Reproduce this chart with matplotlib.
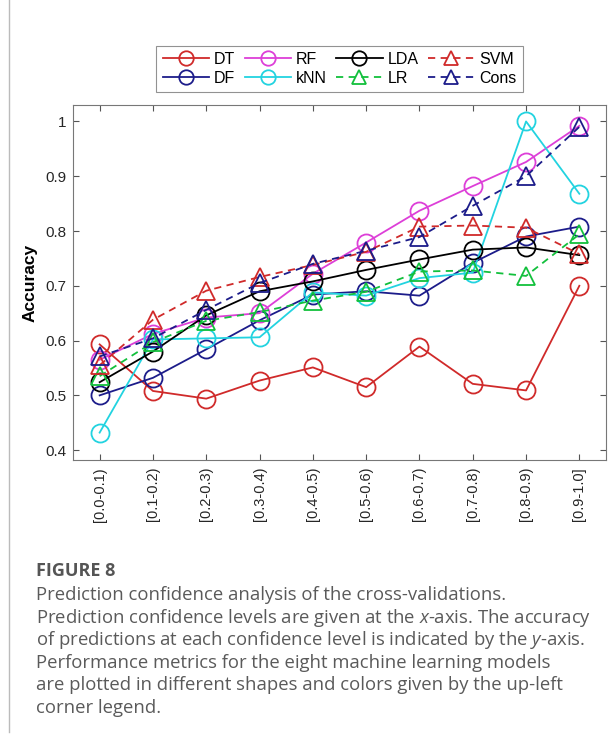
import numpy as np
import matplotlib
matplotlib.use("Agg")
from matplotlib import pyplot as plt
from matplotlib.lines import Line2D

plt.rcParams["font.family"] = ["Liberation Sans", "DejaVu Sans"]
plt.rcParams["mathtext.fontset"] = "custom"
plt.rcParams["mathtext.rm"] = "Open Sans"
plt.rcParams["mathtext.it"] = "Open Sans:italic"

# confidence bins on the x-axis
bins = ["[0.0-0.1)", "[0.1-0.2)", "[0.2-0.3)", "[0.3-0.4)", "[0.4-0.5)",
        "[0.5-0.6)", "[0.6-0.7)", "[0.7-0.8)", "[0.8-0.9)", "[0.9-1.0]"]

# accuracy per model
dt   = [0.593, 0.508, 0.494, 0.527, 0.551, 0.515, 0.589, 0.521, 0.509, 0.700]
df   = [0.500, 0.532, 0.584, 0.637, 0.684, 0.690, 0.682, 0.742, 0.790, 0.808]
rf   = [0.565, 0.612, 0.642, 0.650, 0.722, 0.779, 0.837, 0.882, 0.926, 0.992]
knn  = [0.432, 0.602, 0.604, 0.606, 0.688, 0.682, 0.714, 0.724, 1.000, 0.868]
lda  = [0.524, 0.580, 0.646, 0.690, 0.708, 0.729, 0.748, 0.766, 0.770, 0.756]
lr   = [0.535, 0.597, 0.636, 0.652, 0.673, 0.689, 0.726, 0.728, 0.718, 0.794]
svm  = [0.555, 0.638, 0.691, 0.716, 0.738, 0.762, 0.808, 0.810, 0.806, 0.758]
cons = [0.571, 0.604, 0.656, 0.705, 0.740, 0.764, 0.789, 0.846, 0.900, 0.990]

RED = "#d02a2a"
NAVY = "#1c1c8a"
MAG = "#dd3fd8"
CYAN = "#22d3e0"
GREEN = "#12c03c"

series = [
    ("DT", dt, RED, "o", "-"),
    ("DF", df, NAVY, "o", "-"),
    ("RF", rf, MAG, "o", "-"),
    ("kNN", knn, CYAN, "o", "-"),
    ("LDA", lda, "black", "o", "-"),
    ("LR", lr, GREEN, "^", (0, (4, 3))),
    ("SVM", svm, RED, "^", (0, (4, 3))),
    ("Cons", cons, NAVY, "^", (0, (4, 3))),
]

W, H = 609, 740
fig = plt.figure(figsize=(W / 100, H / 100), dpi=100)

# axes placed in pixel coords of the original figure
ax_l, ax_r, ax_t, ax_b = 73, 606, 105, 460
ax = fig.add_axes([ax_l / W, 1 - ax_b / H, (ax_r - ax_l) / W, (ax_b - ax_t) / H])

x = np.arange(1, len(bins) + 1)
handles = []
for name, vals, col, mk, ls in series:
    h, = ax.plot(x, vals, color=col, linestyle=ls, linewidth=1.3,
                 marker=mk, markersize=13, markerfacecolor="none",
                 markeredgecolor=col, markeredgewidth=1.3, label=name)
    handles.append(h)

ax.set_xlim(0.5, 10.5)
ax.set_ylim(0.382, 1.03)
ax.set_xticks(x)
ax.set_xticklabels(bins, rotation=90, fontsize=10.5, color="#262626")
ax.set_yticks([0.4, 0.5, 0.6, 0.7, 0.8, 0.9, 1.0])
ax.set_yticklabels(["0.4", "0.5", "0.6", "0.7", "0.8", "0.9", "1"],
                   fontsize=11, color="#262626")
ax.tick_params(direction="in", length=4, width=0.8, color="#555555",
               top=True, right=True, pad=5)
for sp in ax.spines.values():
    sp.set_color("#777777")
    sp.set_linewidth(0.8)
ax.set_ylabel("Accuracy", fontsize=12.5, fontweight="bold", labelpad=5)

leg = fig.legend(handles=handles, ncol=4, loc="center",
                 bbox_to_anchor=((157 + 522) / 2 / W, 1 - 69 / H),
                 fontsize=11.5, frameon=True, fancybox=False, edgecolor="#777777",
                 handlelength=2.9, handletextpad=0.3, columnspacing=0.6,
                 labelspacing=0.25, borderpad=0.4, markerscale=0.8)
leg.get_frame().set_linewidth(0.8)

# caption panel
fig.add_artist(Line2D([9 / W, 9 / W], [1 - 732 / H, 1.0], color="#bbbbbb",
                      linewidth=1.0, transform=fig.transFigure))
fig.text(36 / W, 1 - 571 / H, "FIGURE 8", fontsize=13, fontweight="bold",
         color="#555555", va="center", family="Open Sans")
caption = [
    "Prediction confidence analysis of the cross-validations.",
    "Prediction confidence levels are given at the $\\it{x}$-axis. The accuracy",
    "of predictions at each confidence level is indicated by the $\\it{y}$-axis.",
    "Performance metrics for the eight machine learning models",
    "are plotted in different shapes and colors given by the up-left",
    "corner legend.",
]
for i, line in enumerate(caption):
    fig.text(36 / W, 1 - (595 + i * 22.6) / H, line, fontsize=13.3,
             color="#5a5a5a", va="center", family="Open Sans")

fig.savefig("out.png", dpi=100, facecolor="white")
